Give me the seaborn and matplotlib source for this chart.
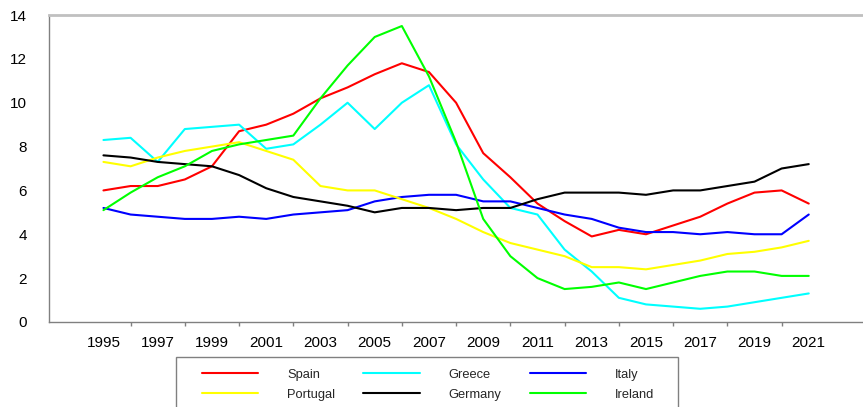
import numpy as np
import pandas as pd
import seaborn as sns
import matplotlib.pyplot as plt
from matplotlib.patches import Rectangle

# Datos por país (1995-2021)
years = list(range(1995, 2022))
spain = [6.0, 6.2, 6.2, 6.5, 7.1, 8.7, 9.0, 9.5, 10.2, 10.7, 11.3, 11.8, 11.4, 10.0,
         7.7, 6.6, 5.4, 4.6, 3.9, 4.2, 4.0, 4.4, 4.8, 5.4, 5.9, 6.0, 5.4]
greece = [8.3, 8.4, 7.3, 8.8, 8.9, 9.0, 7.9, 8.1, 9.0, 10.0, 8.8, 10.0, 10.8, 8.1,
          6.5, 5.2, 4.9, 3.3, 2.3, 1.1, 0.8, 0.7, 0.6, 0.7, 0.9, 1.1, 1.3]
italy = [5.2, 4.9, 4.8, 4.7, 4.7, 4.8, 4.7, 4.9, 5.0, 5.1, 5.5, 5.7, 5.8, 5.8,
         5.5, 5.5, 5.2, 4.9, 4.7, 4.3, 4.1, 4.1, 4.0, 4.1, 4.0, 4.0, 4.9]
portugal = [7.3, 7.1, 7.5, 7.8, 8.0, 8.2, 7.8, 7.4, 6.2, 6.0, 6.0, 5.6, 5.2, 4.7,
            4.1, 3.6, 3.3, 3.0, 2.5, 2.5, 2.4, 2.6, 2.8, 3.1, 3.2, 3.4, 3.7]
germany = [7.6, 7.5, 7.3, 7.2, 7.1, 6.7, 6.1, 5.7, 5.5, 5.3, 5.0, 5.2, 5.2, 5.1,
           5.2, 5.2, 5.6, 5.9, 5.9, 5.9, 5.8, 6.0, 6.0, 6.2, 6.4, 7.0, 7.2]
ireland = [5.1, 5.9, 6.6, 7.1, 7.8, 8.1, 8.3, 8.5, 10.2, 11.7, 13.0, 13.5, 11.2, 8.2,
           4.7, 3.0, 2.0, 1.5, 1.6, 1.8, 1.5, 1.8, 2.1, 2.3, 2.3, 2.1, 2.1]

countries = ['Spain', 'Greece', 'Italy', 'Portugal', 'Germany', 'Ireland']
series = [spain, greece, italy, portugal, germany, ireland]
colors = ['#ff0000', '#00ffff', '#0000ff', '#ffff00', '#000000', '#00ff00']

df = pd.concat([pd.DataFrame({'year': years, 'value': s, 'country': c})
                for c, s in zip(countries, series)])

sns.set_style("white")
plt.rcParams['font.family'] = ['Liberation Sans', 'DejaVu Sans']

fig = plt.figure(figsize=(8.63, 4.07), dpi=100)
ax = fig.add_axes([0.057, 0.209, 0.943, 0.754])

sns.lineplot(data=df, x='year', y='value', hue='country', hue_order=countries,
             palette=dict(zip(countries, colors)), linewidth=1.5, ax=ax,
             legend=False)

ax.set_xlim(1993, 2023)
ax.set_ylim(0, 14)
# años impares con etiqueta, pares sólo marca corta
ax.set_xticks([y for y in years if (y - 1995) % 2 == 0])
ax.set_xticks([y for y in years if (y - 1995) % 2 == 1], minor=True)
ax.set_yticks(range(0, 15, 2))
ax.set_xlabel('')
ax.set_ylabel('')
ax.tick_params(axis='both', which='both', labelsize=11, colors='#808080',
               labelcolor='black')
ax.tick_params(axis='y', length=7, width=1, pad=9)
ax.tick_params(axis='x', which='major', length=7, width=1, pad=3)
ax.tick_params(axis='x', which='minor', length=3, width=1, bottom=True)

for side in ['left', 'bottom']:
    ax.spines[side].set_color('#808080')
    ax.spines[side].set_linewidth(1)
ax.spines['right'].set_visible(False)
ax.spines['top'].set_color('#c0c0c0')
ax.spines['top'].set_linewidth(2)

# Leyenda en el orden del original (3 columnas)
order = ['Spain', 'Portugal', 'Greece', 'Germany', 'Italy', 'Ireland']
cmap = dict(zip(countries, colors))
handles = [plt.Line2D([], [], color=cmap[c], linewidth=1.5) for c in order]
fig.legend(handles, order, loc='upper left', ncol=3,
           bbox_to_anchor=(0.234, 0.094), fontsize=9.3,
           handlelength=4.34, handletextpad=2.25, columnspacing=2.2,
           labelspacing=0.63, borderpad=0, borderaxespad=0,
           frameon=False)
fig.patches.append(Rectangle((0.204, -0.1), 0.5817, 0.2229,
                             transform=fig.transFigure, fill=False,
                             edgecolor='#808080', linewidth=1))

fig.savefig('out.png', dpi=100)
